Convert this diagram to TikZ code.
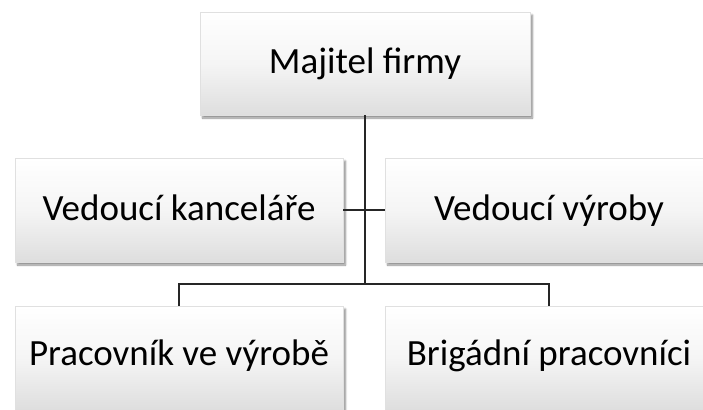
\documentclass[tikz,border=0pt]{standalone}
\usepackage{fontspec}
\setmainfont{Carlito}
\usetikzlibrary{shadows.blur}
\begin{document}
\begin{tikzpicture}[x=1pt,y=-1pt,
  orgbox/.style={rectangle, draw=black!12, line width=0.6pt,
    top color=white, bottom color=black!13, middle color=white!96!black,
    minimum width=328pt, minimum height=104pt, inner sep=0pt,
    text height=25pt, text depth=4pt,
    font=\fontsize{37}{44}\selectfont, text=black,
    blur shadow={shadow xshift=2.5pt, shadow yshift=-3pt, shadow blur steps=6, shadow opacity=45}},
  lowbox/.style={orgbox, text height=22pt, text depth=8pt},
  link/.style={line width=1.5pt, draw=black!85}]
\useasboundingbox (0,0) rectangle (703,409);
\clip (0,0) rectangle (703,409);
\node[orgbox, minimum width=330pt, minimum height=103pt] (top) at (365,63.5) {Majitel firmy};
\node[orgbox] (ml) at (179,210) {Vedoucí kanceláře};
\node[orgbox] (mr) at (549,210) {Vedoucí výroby};
\node[lowbox] (bl) at (179,358) {Pracovník ve výrobě};
\node[lowbox] (br) at (549,358) {Brigádní pracovníci};
\coordinate (bus) at (365,284);
\draw[link] (top.south) -- (bus);
\draw[link] (ml.east) -- (mr.west);
\draw[link] (bl.north) |- (bus) -| (br.north);
\end{tikzpicture}
\end{document}
